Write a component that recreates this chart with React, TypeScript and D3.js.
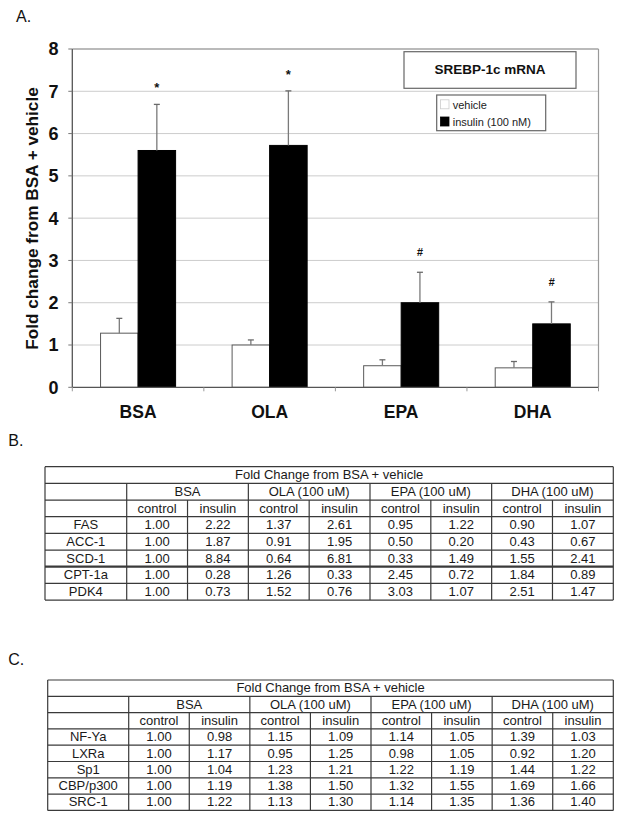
import React from "react";
import * as d3 from "d3";

// ---------- Data ----------
const categories = ["BSA", "OLA", "EPA", "DHA"];
const seriesNames = ["vehicle", "insulin (100 nM)"];
const vehicleValues = [1.28, 1.0, 0.51, 0.46];
const vehicleErrors = [0.35, 0.12, 0.14, 0.15];
const insulinValues = [5.6, 5.72, 2.0, 1.5];
const insulinErrors = [1.09, 1.29, 0.72, 0.52];
const significance = ["*", "*", "#", "#"];
const yTicks = [0, 1, 2, 3, 4, 5, 6, 7, 8];

const tableTitle = "Fold Change from BSA + vehicle";
const tableGroups = ["BSA", "OLA (100 uM)", "EPA (100 uM)", "DHA (100 uM)"];
const tableSubCols = ["control", "insulin"];

const tableBGenes = ["FAS", "ACC-1", "SCD-1", "CPT-1a", "PDK4"];
const tableBValues = [
  ["1.00", "2.22", "1.37", "2.61", "0.95", "1.22", "0.90", "1.07"],
  ["1.00", "1.87", "0.91", "1.95", "0.50", "0.20", "0.43", "0.67"],
  ["1.00", "8.84", "0.64", "6.81", "0.33", "1.49", "1.55", "2.41"],
  ["1.00", "0.28", "1.26", "0.33", "2.45", "0.72", "1.84", "0.89"],
  ["1.00", "0.73", "1.52", "0.76", "3.03", "1.07", "2.51", "1.47"],
];

const tableCGenes = ["NF-Ya", "LXRa", "Sp1", "CBP/p300", "SRC-1"];
const tableCValues = [
  ["1.00", "0.98", "1.15", "1.09", "1.14", "1.05", "1.39", "1.03"],
  ["1.00", "1.17", "0.95", "1.25", "0.98", "1.05", "0.92", "1.20"],
  ["1.00", "1.04", "1.23", "1.21", "1.22", "1.19", "1.44", "1.22"],
  ["1.00", "1.19", "1.38", "1.50", "1.32", "1.55", "1.69", "1.66"],
  ["1.00", "1.22", "1.13", "1.30", "1.14", "1.35", "1.36", "1.40"],
];

const FONT = "'Liberation Sans', Arial, Helvetica, sans-serif";

// ---------- Chart ----------
const plot = { left: 72.3, right: 598.5, top: 49, bottom: 387.3 };

function BarChart() {
  const x = d3.scaleBand().domain(categories).range([plot.left, plot.right]).padding(0);
  const inner = d3
    .scaleBand()
    .domain(seriesNames)
    .range([0, x.bandwidth()])
    .paddingInner(0)
    .paddingOuter(0.753);
  const y = d3.scaleLinear().domain([0, 8]).range([plot.bottom, plot.top]);

  const series = [
    { name: seriesNames[0], values: vehicleValues, errors: vehicleErrors, fill: "#ffffff", stroke: "#5a5a5a" },
    { name: seriesNames[1], values: insulinValues, errors: insulinErrors, fill: "#000000", stroke: "#000000" },
  ];

  const boundaries = categories.map((c) => x(c)!).concat([plot.right]);

  return (
    <g>
      <text x={16} y={21.7} fontFamily={FONT} fontSize={16} fill="#111">A.</text>
      {/* gridlines */}
      {yTicks.filter((t) => t > 0 && t < 8).map((t) => (
        <line key={t} x1={plot.left} x2={plot.right} y1={y(t)} y2={y(t)} stroke="#cccccc" strokeWidth={1} />
      ))}
      {/* frame top and right */}
      <line x1={plot.left} x2={plot.right} y1={y(8)} y2={y(8)} stroke="#777" strokeWidth={1.2} />
      <line x1={plot.right} x2={plot.right} y1={y(8)} y2={y(0)} stroke="#999" strokeWidth={1.2} />
      {/* bars */}
      {series.map((s) =>
        categories.map((c, i) => {
          const bx = x(c)! + inner(s.name)!;
          const bw = inner.bandwidth();
          return (
            <rect
              key={s.name + c}
              x={bx}
              y={y(s.values[i])}
              width={bw}
              height={y(0) - y(s.values[i])}
              fill={s.fill}
              stroke={s.stroke}
              strokeWidth={1}
            />
          );
        })
      )}
      {/* error bars */}
      {series.map((s) =>
        categories.map((c, i) => {
          const cx = x(c)! + inner(s.name)! + inner.bandwidth() / 2;
          const yt = y(s.values[i] + s.errors[i]);
          return (
            <g key={"e" + s.name + c}>
              <line x1={cx} x2={cx} y1={y(s.values[i])} y2={yt} stroke="#7a7a7a" strokeWidth={1.3} />
              <line x1={cx - 3} x2={cx + 3} y1={yt} y2={yt} stroke="#6a6a6a" strokeWidth={1.3} />
            </g>
          );
        })
      )}
      {/* significance marks */}
      {categories.map((c, i) => {
        const cx = x(c)! + inner(seriesNames[1])! + inner.bandwidth() / 2;
        const yt = y(insulinValues[i] + insulinErrors[i]);
        const isStar = significance[i] === "*";
        return (
          <text
            key={"s" + c}
            x={cx}
            y={isStar ? yt - 12 : yt - 16}
            textAnchor="middle"
            fontFamily={FONT}
            fontSize={isStar ? 13 : 11}
            fontWeight="bold"
            fontStyle={isStar ? "normal" : "italic"}
            fill="#111"
          >
            {significance[i]}
          </text>
        );
      })}
      {/* axes */}
      <line x1={plot.left} x2={plot.left} y1={y(8)} y2={y(0)} stroke="#555" strokeWidth={1.3} />
      <line x1={plot.left} x2={plot.right} y1={y(0)} y2={y(0)} stroke="#555" strokeWidth={1.3} />
      {yTicks.map((t) => (
        <g key={"yt" + t}>
          <line x1={plot.left - 4} x2={plot.left} y1={y(t)} y2={y(t)} stroke="#777" strokeWidth={1} />
          <text
            x={58.5}
            y={y(t)}
            dy="0.36em"
            textAnchor="end"
            fontFamily={FONT}
            fontSize={18}
            fontWeight="bold"
            fill="#111"
          >
            {t}
          </text>
        </g>
      ))}
      {boundaries.map((bx, i) => (
        <line key={"xt" + i} x1={bx} x2={bx} y1={y(0)} y2={y(0) + 4} stroke="#999" strokeWidth={1} />
      ))}
      {categories.map((c) => (
        <text
          key={"xl" + c}
          x={x(c)! + x.bandwidth() / 2}
          y={418.3}
          textAnchor="middle"
          fontFamily={FONT}
          fontSize={17.5}
          fontWeight="bold"
          fill="#111"
        >
          {c}
        </text>
      ))}
      <text
        transform={`translate(38,218.5) rotate(-90)`}
        textAnchor="middle"
        fontFamily={FONT}
        fontSize={17.2}
        fontWeight="bold"
        fill="#111"
      >
        Fold change from BSA + vehicle
      </text>
      {/* title box */}
      <rect x={404} y={51.7} width={172} height={36.6} fill="#fff" stroke="#666" strokeWidth={1.2} />
      <text x={490} y={74} textAnchor="middle" fontFamily={FONT} fontSize={13.5} fontWeight="bold" fill="#111">
        SREBP-1c mRNA
      </text>
      {/* legend */}
      <rect x={436.7} y={95} width={109} height={35.7} fill="#fff" stroke="#666" strokeWidth={1.2} />
      {series.map((s, i) => (
        <g key={"lg" + s.name}>
          <rect
            x={440.5}
            y={99.8 + i * 17.2}
            width={8.5}
            height={9}
            fill={s.fill}
            stroke={i === 0 ? "#ccc" : "#000"}
            strokeWidth={0.8}
          />
          <text x={452.7} y={108.8 + i * 17.6} fontFamily={FONT} fontSize={11} fill="#222">
            {s.name}
          </text>
        </g>
      ))}
    </g>
  );
}

// ---------- Tables ----------
type TableProps = {
  left: number;
  labelRight: number;
  right: number;
  top: number;
  rowH: number;
  genes: string[];
  values: string[][];
  thickAfter?: number;
};

function DataTable({ left, labelRight, right, top, rowH, genes, values, thickAfter }: TableProps) {
  const nCols = tableGroups.length * tableSubCols.length;
  const col = d3.scaleLinear().domain([0, nCols]).range([labelRight, right]);
  const nRows = 3 + genes.length;
  const rowY = (r: number) => top + r * rowH;
  const bottom = rowY(nRows);
  const stroke = "#3a3a3a";
  const sw = 1.2;
  const fs = 13;
  const textY = (r: number) => rowY(r) + rowH - 4;

  const hLines = d3.range(0, nRows + 1).map((r) => (
    <line
      key={"h" + r}
      x1={left}
      x2={right}
      y1={rowY(r)}
      y2={rowY(r)}
      stroke={stroke}
      strokeWidth={thickAfter !== undefined && r === 3 + thickAfter + 1 ? 2.2 : sw}
    />
  ));

  return (
    <g fontFamily={FONT} fill="#1a1a1a">
      {hLines}
      {/* outer verticals */}
      <line x1={left} x2={left} y1={top} y2={bottom} stroke={stroke} strokeWidth={sw} />
      <line x1={right} x2={right} y1={top} y2={bottom} stroke={stroke} strokeWidth={sw} />
      {/* label column divider (below title row) */}
      <line x1={labelRight} x2={labelRight} y1={rowY(1)} y2={bottom} stroke={stroke} strokeWidth={sw} />
      {/* group dividers */}
      {d3.range(1, tableGroups.length).map((g) => (
        <line key={"g" + g} x1={col(g * 2)} x2={col(g * 2)} y1={rowY(1)} y2={bottom} stroke={stroke} strokeWidth={sw} />
      ))}
      {/* sub-column dividers */}
      {d3.range(0, tableGroups.length).map((g) => (
        <line
          key={"s" + g}
          x1={col(g * 2 + 1)}
          x2={col(g * 2 + 1)}
          y1={rowY(2)}
          y2={bottom}
          stroke={stroke}
          strokeWidth={sw}
        />
      ))}
      <text x={(left + right) / 2} y={textY(0)} textAnchor="middle" fontSize={fs}>
        {tableTitle}
      </text>
      {tableGroups.map((g, i) => (
        <text key={g} x={col(i * 2 + 1)} y={textY(1)} textAnchor="middle" fontSize={fs}>
          {g}
        </text>
      ))}
      {d3.range(0, nCols).map((c) => (
        <text key={"sc" + c} x={(col(c) + col(c + 1)) / 2} y={textY(2)} textAnchor="middle" fontSize={fs}>
          {tableSubCols[c % 2]}
        </text>
      ))}
      {genes.map((gene, r) => (
        <g key={gene}>
          <text x={(left + labelRight) / 2} y={textY(3 + r)} textAnchor="middle" fontSize={fs}>
            {gene}
          </text>
          {values[r].map((v, c) => (
            <text key={c} x={(col(c) + col(c + 1)) / 2} y={textY(3 + r)} textAnchor="middle" fontSize={fs}>
              {v}
            </text>
          ))}
        </g>
      ))}
    </g>
  );
}

export default function App() {
  return (
    <svg
      width={624}
      height={822}
      viewBox="0 0 624 822"
      style={{ position: "absolute", left: 0, top: 0, background: "#fff" }}
    >
      <rect x={0} y={0} width={624} height={822} fill="#fff" />
      <BarChart />
      <text x={8.3} y={445.7} fontFamily={FONT} fontSize={16} fill="#111">B.</text>
      <DataTable
        left={45}
        labelRight={126.7}
        right={613.3}
        top={466.7}
        rowH={16.67}
        genes={tableBGenes}
        values={tableBValues}
        thickAfter={2}
      />
      <text x={8.3} y={664.7} fontFamily={FONT} fontSize={16} fill="#111">C.</text>
      <DataTable
        left={47.7}
        labelRight={128.7}
        right={613.3}
        top={680}
        rowH={16.3}
        genes={tableCGenes}
        values={tableCValues}
      />
    </svg>
  );
}
